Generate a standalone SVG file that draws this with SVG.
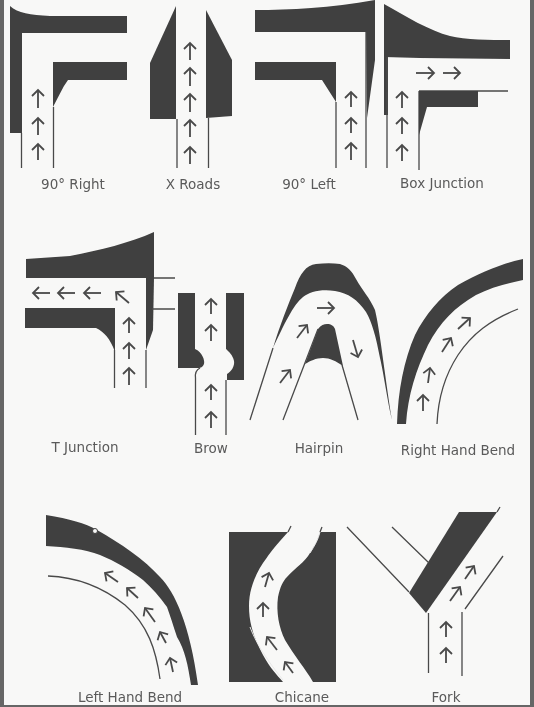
<svg xmlns="http://www.w3.org/2000/svg" width="534" height="707" viewBox="0 0 534 707">
<style>
.d{fill:#404040;stroke:none}
.l{fill:none;stroke:#4a4a4a;stroke-width:1.3}
.a{fill:none;stroke:#4a4a4a;stroke-width:1.8;marker-end:url(#h)}
.w{fill:none;stroke:#e8e8e8;stroke-width:1}
text{font-family:"DejaVu Sans",sans-serif;font-size:13.5px;fill:#5a5a5a;text-anchor:middle}
</style>
<defs>
<marker id="h" markerUnits="userSpaceOnUse" markerWidth="16" markerHeight="16" refX="9" refY="8" orient="auto">
<path d="M3 2L9 8L3 14" fill="none" stroke="#4a4a4a" stroke-width="1.8"/>
</marker>
<filter id="b" x="0" y="0" width="534" height="707" filterUnits="userSpaceOnUse"><feGaussianBlur stdDeviation="0.45"/></filter>
</defs>
<rect width="534" height="707" fill="#f8f8f7"/>
<g filter="url(#b)">
<g id="frame"><rect x="0" y="0" width="4" height="707" fill="#666"/><rect x="530" y="0" width="4" height="707" fill="#666"/><rect x="0" y="705" width="534" height="2" fill="#666"/></g>

<g id="right90">
<path class="d" d="M10 6C18 13 30 15 50 16L127 16V33H22V133H10Z"/>
<path class="d" d="M53 62H127V80H68C62 88 58 98 53 107Z"/>
<path class="l" d="M21.500 133V168M53.500 107V168"/>
<path class="a" d="M38 108V90"/><path class="a" d="M38 135V118"/><path class="a" d="M38 160V144"/>
<text x="73" y="189">90° Right</text>
</g>

<g id="xroads">
<path class="d" d="M176 6L150 63V119H176Z"/>
<path class="d" d="M206 10L232 60V116L206 118Z"/>
<path class="l" d="M177 119V168M208.500 118V168"/>
<path class="a" d="M190 60V43"/><path class="a" d="M190 86V68"/><path class="a" d="M190 112V94"/><path class="a" d="M190 137V120"/><path class="a" d="M190 164V147"/>
<text x="193" y="189">X Roads</text>
</g>

<g id="left90">
<path class="d" d="M255 10C290 10 330 8 375 0V60L367 118L366 32H255Z"/>
<path class="d" d="M255 62H336V102L322 80H255Z"/>
<path class="l" d="M336 102V168M366 32V168"/>
<path class="a" d="M351 107V92"/><path class="a" d="M351 133V118"/><path class="a" d="M351 160V143"/>
<text x="309" y="189">90° Left</text>
</g>

<g id="box">
<path class="d" d="M384 4C405 16 430 31 450 36C465 40 490 40 510 40V59L420 58L384 57Z"/>
<path class="d" d="M384 57H388V115H384Z"/>
<path class="l" d="M387 57V168M419 91V170M419 91H508"/>
<path class="d" d="M419 91H478V107H427L419 135Z"/>
<path class="a" d="M416 73H434"/><path class="a" d="M443 73H460"/><path class="a" d="M402 108V92"/><path class="a" d="M402 134V118"/><path class="a" d="M402 161V145"/>
<text x="442" y="188">Box Junction</text>
</g>

<g id="tjunction">
<path class="d" d="M26 259L70 256C100 250 130 243 154 232V278H26Z"/>
<path class="d" d="M146 278H154L153 330L146 350Z"/>
<path class="d" d="M25 308H115V352C110 338 104 332 96 328L25 328Z"/>
<path class="l" d="M154 278H175M152 309H175M146 350V388M114.500 350V388"/>
<path class="a" d="M50 293H33"/><path class="a" d="M75 293H58"/><path class="a" d="M101 293H84"/><path class="a" d="M129 303L116 292"/><path class="a" d="M129 333V318"/><path class="a" d="M129 359V343"/><path class="a" d="M129 385V368"/>
<text x="85" y="452">T Junction</text>
</g>

<g id="brow">
<path class="d" d="M178 293H195V349C202 352 205 360 204 364C203 367 200 368 199 368H178Z"/>
<path class="d" d="M228 293H244V380H227V374C231 372 235 366 234 361C233 355 228 351 226 349V293Z"/>
<path class="l" d="M200 368C196 370 195 374 195.500 378V435M226 380V435"/>
<path class="a" d="M211 314V299"/><path class="a" d="M211 341V325"/><path class="a" d="M211 400V385"/><path class="a" d="M211 428V412"/>
<text x="211" y="453">Brow</text>
</g>

<g id="hairpin">
<path class="d" d="M273 348C280 325 288 305 295 288C300 274 306 265 316 264C325 263 333 263 340 264C347 266 352 271 356 279C362 290 370 298 375 310C380 330 386 385 392 420C388 405 384 375 380 358C376 337 372 322 366 312C358 300 348 293 335 291C320 289 310 292 303 297C293 305 284 325 273 348Z"/>
<path class="d" d="M305 364L318 329C321 325 324 324 327 324C331 324 334 326 335 329L343 366C336 361 330 358 323 358C316 358 310 361 305 364Z"/>
<path class="l" d="M250 420L273 348M283 420L318 329M342 365L358 420"/>
<path class="a" d="M317 308H334"/><path class="a" d="M297 338L307 325"/><path class="a" d="M280 383L290 370"/><path class="a" d="M353 340L358 357"/>
<text x="319" y="453">Hairpin</text>
</g>

<g id="rightbend">
<path class="d" d="M397 424C398 390 404 360 415 335C425 315 440 297 458 285C480 273 500 264 523 259V280C505 284 490 288 476 295C455 307 440 322 428 345C416 370 408 395 406 424Z"/>
<path class="l" d="M437 424C438 400 445 375 458 355C472 334 490 320 518 309"/>
<path class="a" d="M423 411V395"/><path class="a" d="M428 383L430 368"/><path class="a" d="M442 352L451 338"/><path class="a" d="M458 329L470 318"/>
<text x="458" y="455">Right Hand Bend</text>
</g>

<g id="leftbend">
<path class="d" d="M46 515C70 519 85 523 97 530C120 543 145 560 160 577C175 592 190 625 198 685H191C188 665 185 650 177 637C173 625 170 615 167 607C160 597 152 588 143 580C130 570 115 561 100 555C85 549 65 547 46 546Z"/>
<circle cx="95" cy="531" r="2.500" fill="#f8f8f7" stroke="#404040"/>
<path class="l" d="M48 576C75 577 100 585 125 605C148 625 156 650 160 679"/>
<path class="a" d="M173 672L170 658"/><path class="a" d="M166 643L160 632"/><path class="a" d="M155 622L145 608"/><path class="a" d="M138 598L127 588"/><path class="a" d="M118 582L105 573"/>
<text x="130" y="702">Left Hand Bend</text>
</g>

<g id="chicane">
<path class="d" d="M229 532H288L280 541C272 550 268 556 263 563C255 575 249 590 249 606C249 625 255 640 263 655C270 668 277 675 283 682H229Z"/>
<path class="d" d="M320 532H336V682H313C305 668 295 657 285 640C279 628 276 612 278 597C280 587 283 581 287 577C295 568 305 562 310 553C315 545 318 540 320 532Z"/>
<path class="l" d="M288 532L291 526M320 532L322 527"/>
<path class="w" d="M310 553C315 545 318 540 320 532M250 627C255 640 263 655 283 680"/>
<path class="a" d="M265 587L269 573"/><path class="a" d="M263 617V603"/><path class="a" d="M277 650L267 637"/><path class="a" d="M293 673L285 662"/>
<text x="302" y="702">Chicane</text>
</g>

<g id="fork">
<path class="d" d="M459 512H497L426 613L409 593Z"/>
<path class="l" d="M347 527L409 592M392 527L429 563M503 556L465 609M428.500 613V673M462 612V676M497 512L500 507"/>
<path class="a" d="M446 637V622"/><path class="a" d="M446 663V648"/><path class="a" d="M450 601L460 587"/><path class="a" d="M465 579L474 566"/>
<text x="446" y="702">Fork</text>
</g>
</g>
</svg>
